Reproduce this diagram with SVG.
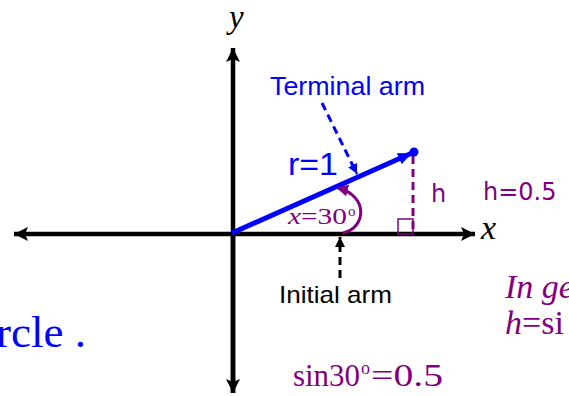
<svg xmlns="http://www.w3.org/2000/svg" width="569" height="396" viewBox="0 0 569 396">
<style>
.axis{stroke:#000;stroke-width:4.5;fill:none}
.serif{font-family:"Liberation Serif","Times New Roman",serif}
.sans{font-family:"Liberation Sans",Arial,sans-serif}
.dv{font-family:"DejaVu Sans",sans-serif}
.purple{fill:#800080}
.blue{fill:#0000FF}
</style>
<defs>
<marker id="ab" markerUnits="userSpaceOnUse" viewBox="0 0 14 14" refX="14" refY="7" markerWidth="14" markerHeight="14" orient="auto">
<path d="M0,0 L14,7 L0,14 L3,7 Z" fill="#000"/>
</marker>
<marker id="abl" markerUnits="userSpaceOnUse" viewBox="0 0 14 12" refX="14" refY="6" markerWidth="14" markerHeight="12" orient="auto">
<path d="M0,0 L14,6 L0,12 Z" fill="#0000FF"/>
</marker>
<marker id="abs" markerUnits="userSpaceOnUse" viewBox="0 0 10 10" refX="10" refY="5" markerWidth="10" markerHeight="10" orient="auto">
<path d="M0,0 L10,5 L0,10 Z" fill="#0000FF"/>
</marker>
<marker id="akb" markerUnits="userSpaceOnUse" viewBox="0 0 10 10" refX="10" refY="5" markerWidth="10" markerHeight="10" orient="auto">
<path d="M0,0 L10,5 L0,10 Z" fill="#000"/>
</marker>
<marker id="ap" markerUnits="userSpaceOnUse" viewBox="0 0 12 12" refX="10" refY="6" markerWidth="12" markerHeight="12" orient="auto">
<path d="M0,0 L12,6 L0,12 Z" fill="#800080"/>
</marker>
</defs>

<g id="axes">
<line class="axis" x1="233" y1="393" x2="233" y2="48" marker-end="url(#ab)"/>
<line class="axis" x1="233" y1="234" x2="233" y2="393" marker-end="url(#ab)"/>
<line class="axis" x1="233" y1="234" x2="475" y2="234" marker-end="url(#ab)"/>
<line class="axis" x1="233" y1="234" x2="14" y2="234" marker-end="url(#ab)"/>
<text class="serif" x="229" y="28" font-size="33" font-style="italic">y</text>
<text class="serif" x="481" y="239" font-size="34" font-style="italic">x</text>
</g>

<g id="height">
<line x1="413" y1="156" x2="413" y2="234" stroke="#800080" stroke-width="3" stroke-dasharray="8,5"/>
<rect x="398" y="219" width="15" height="15" fill="none" stroke="#800080" stroke-width="1.5"/>
<text class="dv purple" x="431" y="202" font-size="24">h</text>
<text class="dv purple" x="483" y="200" font-size="24">h=0.5</text>
</g>

<g id="terminal-arm">
<line x1="232" y1="233" x2="412" y2="153" stroke="#0000FF" stroke-width="5" marker-end="url(#abl)"/>
<circle cx="414" cy="152" r="4.5" fill="#0000FF"/>
<text class="sans blue" x="288" y="175" font-size="32" textLength="50" lengthAdjust="spacingAndGlyphs">r=1</text>
<text class="sans blue" x="270" y="95" font-size="26" textLength="155" lengthAdjust="spacingAndGlyphs">Terminal arm</text>
</g>

<g id="angle">
<path d="M343,233 C366,228 369,196 338,188" fill="none" stroke="#800080" stroke-width="3" marker-end="url(#ap)"/>
<text class="serif purple" x="288" y="224" font-size="24" textLength="59" lengthAdjust="spacingAndGlyphs"><tspan font-style="italic">x</tspan>=30</text>
<text class="serif purple" x="348" y="216" font-size="15">o</text>
</g>

<g id="initial-arm">
<text class="sans" x="279" y="303" font-size="24" fill="#000" textLength="113" lengthAdjust="spacingAndGlyphs">Initial arm</text>
</g>

<g id="connectors">
<line x1="340" y1="278" x2="340" y2="237" stroke="#000" stroke-width="3" stroke-dasharray="8,5" marker-end="url(#akb)"/>
<line x1="322" y1="103" x2="357" y2="174" stroke="#0000FF" stroke-width="3" stroke-dasharray="8,5" marker-end="url(#abs)"/>
</g>

<g id="texts">
<text class="serif blue" x="-4" y="347" font-size="45">rcle .</text>
<text class="serif purple" x="293" y="386" font-size="32" textLength="67" lengthAdjust="spacingAndGlyphs">sin30</text>
<text class="serif purple" x="361" y="374" font-size="18">o</text>
<text class="serif purple" x="371" y="386" font-size="32" textLength="72" lengthAdjust="spacingAndGlyphs">=0.5</text>
<text class="serif purple" x="505" y="298" font-size="34" font-style="italic">In ge</text>
<text class="serif purple" x="505" y="334" font-size="34"><tspan font-style="italic">h</tspan>=si</text>
</g>
</svg>
